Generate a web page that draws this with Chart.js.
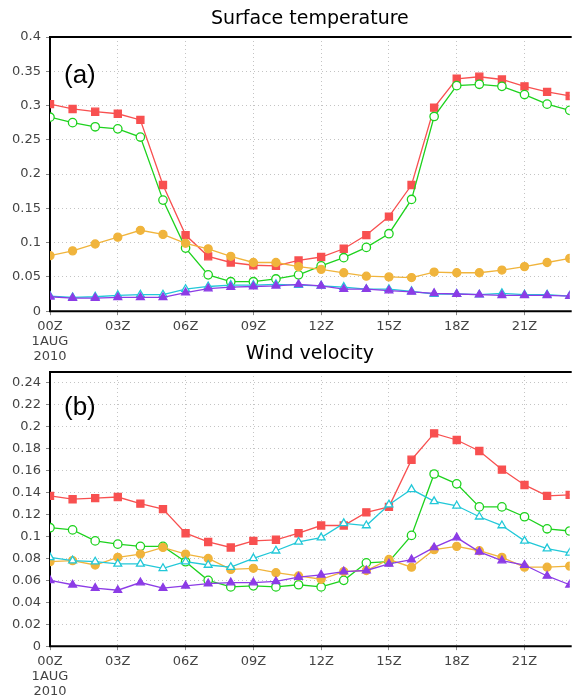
<!DOCTYPE html>
<html>
<head>
<meta charset="utf-8">
<script src="https://cdn.jsdelivr.net/npm/chart.js@4.4.1/dist/chart.umd.min.js"></script>
<style>
html, body { margin: 0; padding: 0; background: #fff; overflow: hidden; width: 573px; height: 697px; }
.box { position: absolute; left: 0; width: 576px; height: 368px; }
#boxA { top: 0; }
#boxB { top: 335px; }
</style>
</head>
<body>
<div class="box" id="boxA"><canvas id="chartA"></canvas></div>
<div class="box" id="boxB"><canvas id="chartB"></canvas></div>
<script>
const hours = [0, 1, 2, 3, 4, 5, 6, 7, 8, 9, 10, 11, 12, 13, 14, 15, 16, 17, 18, 19, 20, 21, 22, 23];
const dateLines = ['1AUG', '2010'];

// (a) Surface temperature
const tempRed    = [0.302, 0.295, 0.291, 0.288, 0.279, 0.184, 0.111, 0.080, 0.071, 0.067, 0.066, 0.074, 0.079, 0.091, 0.111, 0.138, 0.184, 0.297, 0.339, 0.342, 0.338, 0.328, 0.320, 0.314];
const tempGreen  = [0.283, 0.275, 0.269, 0.266, 0.254, 0.162, 0.092, 0.053, 0.043, 0.043, 0.047, 0.053, 0.066, 0.078, 0.093, 0.113, 0.163, 0.284, 0.329, 0.331, 0.328, 0.316, 0.302, 0.293];
const tempOrange = [0.081, 0.088, 0.098, 0.108, 0.118, 0.112, 0.099, 0.091, 0.080, 0.071, 0.071, 0.065, 0.061, 0.056, 0.051, 0.050, 0.049, 0.057, 0.056, 0.056, 0.060, 0.065, 0.071, 0.077];
const tempCyan   = [0.022, 0.020, 0.021, 0.023, 0.024, 0.024, 0.032, 0.036, 0.038, 0.038, 0.039, 0.038, 0.037, 0.035, 0.032, 0.032, 0.029, 0.025, 0.025, 0.024, 0.026, 0.024, 0.024, 0.022];
const tempPurple = [0.021, 0.019, 0.019, 0.020, 0.020, 0.020, 0.027, 0.033, 0.035, 0.036, 0.037, 0.039, 0.037, 0.032, 0.032, 0.030, 0.028, 0.026, 0.025, 0.024, 0.023, 0.023, 0.023, 0.022];

// (b) Wind velocity
const windRed    = [0.137, 0.134, 0.135, 0.136, 0.130, 0.125, 0.103, 0.095, 0.090, 0.096, 0.097, 0.103, 0.110, 0.110, 0.122, 0.127, 0.170, 0.194, 0.188, 0.178, 0.161, 0.147, 0.137, 0.138];
const windGreen  = [0.108, 0.106, 0.096, 0.093, 0.091, 0.091, 0.077, 0.060, 0.054, 0.055, 0.054, 0.056, 0.054, 0.060, 0.076, 0.077, 0.101, 0.157, 0.148, 0.127, 0.127, 0.118, 0.107, 0.105];
const windOrange = [0.077, 0.078, 0.074, 0.081, 0.084, 0.090, 0.084, 0.080, 0.070, 0.071, 0.067, 0.064, 0.061, 0.068, 0.069, 0.079, 0.072, 0.088, 0.091, 0.087, 0.081, 0.072, 0.072, 0.073];
const windCyan   = [0.081, 0.078, 0.077, 0.075, 0.075, 0.071, 0.077, 0.074, 0.072, 0.080, 0.087, 0.095, 0.099, 0.112, 0.110, 0.129, 0.143, 0.132, 0.128, 0.118, 0.110, 0.096, 0.089, 0.085];
const windPurple = [0.060, 0.056, 0.053, 0.051, 0.058, 0.053, 0.055, 0.057, 0.058, 0.058, 0.059, 0.063, 0.065, 0.068, 0.069, 0.075, 0.079, 0.090, 0.099, 0.086, 0.078, 0.074, 0.064, 0.056];

const FONT = 'DejaVu Sans';

// frame on left, top and bottom, drawn under the lines
const frame = {
    id: 'frame',
    beforeDatasetsDraw(chart) {
        const { ctx, chartArea: a } = chart;
        ctx.save();
        ctx.strokeStyle = '#000';
        ctx.lineWidth = 2;
        ctx.beginPath();
        ctx.moveTo(a.right + 2, a.top);
        ctx.lineTo(a.left, a.top);
        ctx.lineTo(a.left, a.bottom);
        ctx.lineTo(a.right + 2, a.bottom);
        ctx.stroke();
        ctx.restore();
    }
};

const panelLabel = {
    id: 'panelLabel',
    afterDraw(chart, args, opts) {
        const { ctx, chartArea: a } = chart;
        ctx.save();
        ctx.font = '26px "Liberation Sans", Arial, sans-serif';
        ctx.fillStyle = '#000';
        ctx.textBaseline = 'middle';
        ctx.fillText(opts.text, a.left + 14, a.top + opts.dy);
        ctx.restore();
    }
};

function series(data, color, style, open, radius) {
    return {
        data: data.map((v, i) => ({ x: hours[i], y: v })),
        borderColor: color,
        borderWidth: 1.3,
        pointStyle: style,
        pointRadius: radius,
        pointBorderWidth: 1.3,
        pointBorderColor: color,
        pointBackgroundColor: open ? '#fff' : color,
        tension: 0
    };
}

function yLabel(v) {
    return String(Number(v.toFixed(2)));
}

function makeChart(id, title, label, dy, yMax, yStep, sets) {
    return new Chart(document.getElementById(id).getContext('2d'), {
        type: 'line',
        data: {
            datasets: [
                series(sets[4], '#8c3ce6', 'triangle', false, 4.5),
                series(sets[3], '#22c8d8', 'triangle', true, 4.5),
                series(sets[2], '#f0b43c', 'circle', false, 4),
                series(sets[1], '#1ed21e', 'circle', true, 4.2),
                series(sets[0], '#f85050', 'rect', false, 5)
            ]
        },
        options: {
            responsive: true,
            maintainAspectRatio: false,
            animation: false,
            devicePixelRatio: 1,
            layout: { padding: { left: 0, right: 1.4, top: 0, bottom: 0 } },
            plugins: {
                legend: { display: false },
                tooltip: { enabled: false },
                title: {
                    display: true,
                    text: title,
                    fullSize: false,
                    color: '#000',
                    font: { family: FONT, size: 19, weight: 'normal', lineHeight: 1.2 },
                    padding: { top: 8, bottom: 6.2 }
                },
                panelLabel: { text: label, dy: dy }
            },
            scales: {
                x: {
                    type: 'linear',
                    min: 0,
                    max: 23,
                    ticks: {
                        stepSize: 3,
                        includeBounds: false,
                        autoSkip: false,
                        maxRotation: 0,
                        padding: 4,
                        color: '#444',
                        font: { family: FONT, size: 13, lineHeight: 1.15 },
                        callback: v => {
                            const t = String(v).padStart(2, '0') + 'Z';
                            return v === 0 ? [t, ...dateLines] : t;
                        }
                    },
                    grid: { color: '#c4c4c4', lineWidth: 1, tickLength: 4, tickColor: '#888' },
                    border: { display: false, dash: [1, 3] }
                },
                y: {
                    min: 0,
                    max: yMax,
                    afterFit: s => { s.width = 50; },
                    ticks: {
                        stepSize: yStep,
                        includeBounds: false,
                        padding: 5,
                        color: '#444',
                        font: { family: FONT, size: 13 },
                        callback: yLabel
                    },
                    grid: { color: '#c4c4c4', lineWidth: 1, tickLength: 4, tickColor: '#888' },
                    border: { display: false, dash: [1, 3] }
                }
            }
        },
        plugins: [frame, panelLabel]
    });
}

makeChart('chartA', 'Surface temperature', '(a)', 39, 0.4, 0.05,
    [tempRed, tempGreen, tempOrange, tempCyan, tempPurple]);
makeChart('chartB', 'Wind velocity', '(b)', 36, 0.25, 0.02,
    [windRed, windGreen, windOrange, windCyan, windPurple]);
</script>
</body>
</html>
